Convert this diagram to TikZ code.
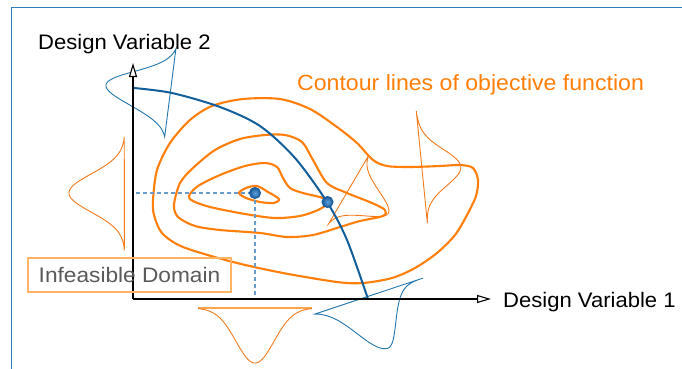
\documentclass[tikz,border=0pt]{standalone}
\usepackage{fontspec}
\usetikzlibrary{arrows.meta}
\newfontfamily\axisfont[FakeStretch=1.05]{Liberation Sans}
\newfontfamily\boxfont[FakeStretch=1.08]{Liberation Sans}

\definecolor{framec}{HTML}{2E7CC0}
\definecolor{contourc}{HTML}{FF7F0A}
\definecolor{thinorange}{HTML}{F47A1E}
\definecolor{paleorange}{HTML}{FFA550}
\definecolor{boxorange}{HTML}{FFB366}
\definecolor{constrc}{HTML}{125E9A}
\definecolor{thinblue}{HTML}{2477AE}
\definecolor{dashblue}{HTML}{6A9BCB}
\definecolor{dotlight}{HTML}{5E9FDA}
\definecolor{dotdark}{HTML}{185A9A}
\definecolor{graytext}{HTML}{5A5A5A}

% bell curve along a baseline: start (#1,#2), unit direction (#3,#4), length #5,
% height #6 (signed), mean #7, left/right spread #8/#9
\newcommand\bellpath[9]{plot[domain=0:#5,samples=110]
  ({#1+\x*(#3)+(#6)*gsk(\x,#7,#8,#9)*(-(#4))},{#2+\x*(#4)+(#6)*gsk(\x,#7,#8,#9)*(#3)})}

\tikzset{
  declare function={gss(\u,\m,\s)=exp(-((\u-\m)^2)/(2*(\s)^2));
                    gsk(\u,\m,\a,\b)=(\u<\m)*gss(\u,\m,\a)+(\u>=\m)*gss(\u,\m,\b);},
  contour/.style={draw=contourc,line width=2.1pt},
  thinbell/.style={line width=0.9pt},
  axisline/.style={draw=black,line width=1.1pt,
    -{Triangle[open,length=14pt,width=8pt,fill=white]}},
  axislabel/.style={anchor=base west,inner sep=0pt,
    font=\axisfont\fontsize{21}{25}\selectfont},
  optdot/.style={circle,minimum size=11pt,inner sep=0pt,draw=dotdark,line width=1pt,
    inner color=dotlight,outer color=dotdark},
}

\begin{document}
\begin{tikzpicture}[x=1pt,y=-1pt]
\useasboundingbox (0,0) rectangle (682,369);
\fill[white] (0,0) rectangle (682,369);

% frame
\draw[framec,line width=1.6pt] (11.5,369) -- (11.5,7.5) -- (682,7.5);

% bell curves of the input distributions
\draw[thinblue,thinbell] \bellpath{167}{137}{0.124}{-0.992}{88.7}{-67}{44}{17}{17} -- cycle;
\draw[thinorange,thinbell] \bellpath{125}{137}{0}{1}{113}{56}{56}{19}{19} -- cycle;
\draw[paleorange,line width=2pt] (198,308) -- (312,308);
\draw[thinorange,thinbell] \bellpath{198}{308}{1}{0}{114}{55}{57}{19}{19};
\draw[thinblue,thinbell] \bellpath{314}{311}{0.957}{-0.290}{113.9}{57}{60}{25}{15} -- cycle;
\draw[thinorange,thinbell] \bellpath{328}{223}{0.507}{-0.862}{78.9}{47}{39}{14}{14} -- cycle;
\draw[thinorange,thinbell] \bellpath{416}{111}{0.098}{0.996}{112.5}{-39}{60}{19}{17} -- cycle;

% contour lines of the objective
\draw[contour] plot[smooth cycle] coordinates {
  (239,193) (246,188) (257,186) (268,192) (279,199) (274,203) (260,202) (246,198)};
\draw[contour] plot[smooth cycle] coordinates {
  (189,196) (198,186) (220,175) (245,166) (265,163) (277,167) (283,178) (290,188)
  (303,193) (323,198) (328,203) (318,210) (300,216) (275,218) (245,214) (210,207) (193,201)};
\draw[contour] plot[smooth cycle] coordinates {
  (174,205) (180,183) (193,168) (215,150) (240,139) (265,135) (285,135) (302,142)
  (313,160) (327,183) (347,193) (372,203) (385,210) (383,216) (360,221) (340,227)
  (313,235) (287,237) (260,233) (220,230) (195,226) (178,217)};
\draw[contour] plot[smooth cycle] coordinates {
  (153,200) (157,170) (170,143) (190,120) (212,106) (243,99) (280,99) (310,109)
  (337,127) (357,143) (373,160) (387,166) (410,167) (440,166) (460,165) (473,168)
  (478,180) (476,196) (467,215) (455,235) (437,253) (415,268) (392,278) (363,283)
  (337,282) (283,273) (233,262) (183,247) (162,233) (154,215)};

% constraint boundary
\draw[constrc,line width=2pt] plot[smooth] coordinates {
  (134,88) (172,93) (220,107) (260,126) (295,158) (327,202) (347,240) (368,299)};

% axes
\coordinate (orig) at (133,299);
\coordinate (ytip) at (133,63);
\coordinate (xtip) at (491,299);
\draw[axisline] (orig) -- (ytip);
\draw[axisline] (orig) -- (xtip);

% optima and their projections
\coordinate (dashL) at (136,193);
\coordinate (dashB) at (255,296);
\draw[dashblue,line width=1.3pt,dash pattern=on 4pt off 3pt] (dashL) -- (255,193) -- (dashB);
\node[optdot] (optUnc) at (255,193) {};
\node[optdot] (optCon) at (327.5,202) {};

% labels
\node[axislabel] (lblY) at (38,49.3) {Design Variable 2};
\node[axislabel] (lblX) at (503,307.5) {Design Variable 1};
\node[axislabel,text=contourc,font=\axisfont\fontsize{22}{26}\selectfont] (lblC) at (297,90.7)
  {Contour lines of objective function};
\node[draw=boxorange,line width=1.3pt,minimum width=203pt,minimum height=34pt,inner sep=0pt,
  text=graytext,font=\boxfont\fontsize{21}{25}\selectfont] (infeasible) at (129.5,275)
  {Infeasible Domain};
\end{tikzpicture}
\end{document}
